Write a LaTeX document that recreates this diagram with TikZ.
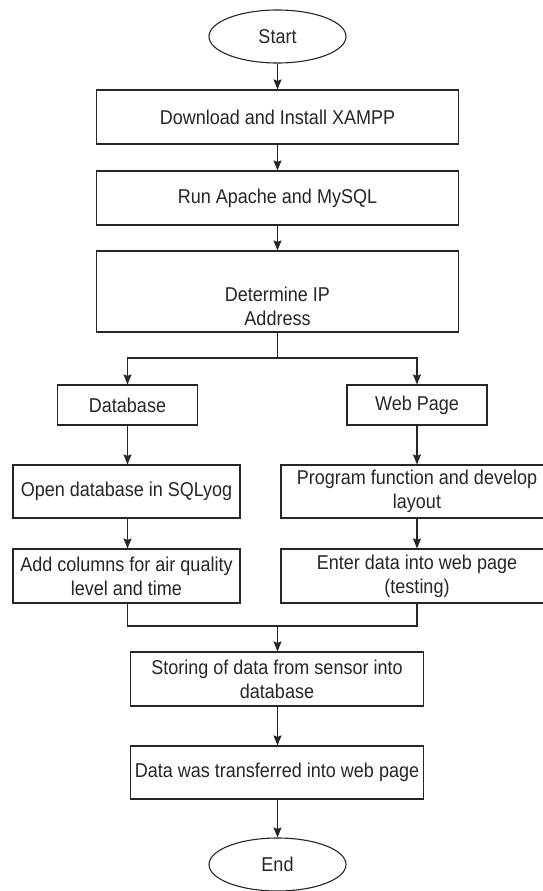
\documentclass[tikz,border=0pt]{standalone}
\usepackage{fontspec}
\setmainfont{Liberation Sans}[FakeStretch=0.9]
\usetikzlibrary{shapes.geometric,arrows.meta}
\begin{document}
\begin{tikzpicture}[x=1pt,y=-1pt,
  every node/.style={font=\fontsize{20}{24}\selectfont, text=black!85, align=center, inner sep=0pt},
  box/.style={draw=black!85, line width=1.2pt, rectangle, minimum width=#1},
  oval/.style={draw=black!85, line width=1.1pt, ellipse, minimum width=137pt, minimum height=53pt},
  conn/.style={draw=black!85, line width=1.2pt},
  arr/.style={conn, -{Stealth[length=10pt,width=8pt,inset=1.5pt]}}]
\useasboundingbox (0,0) rectangle (543,891);
\fill[white] (0,0) rectangle (543,891);

\node[oval] (start) at (277.5,36.5) {Start};
\node[box=362pt, minimum height=54pt] (b1) at (277.5,117) {Download and Install XAMPP};
\node[box=362pt, minimum height=54pt] (b2) at (277.5,198) {Run Apache and MySQL};
\node[box=362pt, minimum height=81pt] (ip) at (277.5,291.5) {};
\node (iptext) at (277.5,306) {Determine IP\\Address};

\node[box=140pt, minimum height=40pt] (db) at (127.5,405) {Database};
\node[box=140pt, minimum height=40pt] (wp) at (417,405) {Web Page};

\node[box=227pt, minimum height=53pt] (od) at (126.5,491.5) {Open database in SQLyog};
\node[box=272pt, minimum height=53pt] (pf) at (417,491.5) {Program function and develop\\layout};
\node[box=227pt, minimum height=54pt] (ac) at (126.5,576) {Add columns for air quality\\level and time};
\node[box=272pt, minimum height=54pt] (ed) at (417,576) {Enter data into web page\\(testing)};

\node[box=293pt, minimum height=54pt] (st) at (277,679) {Storing of data from sensor into\\database};
\node[box=293pt, minimum height=53pt] (dt) at (277,772.5) {Data was transferred into web page};
\node[oval] (end) at (277.5,864.5) {End};

\coordinate (split) at (277.5,358);
\coordinate (merge) at (277.5,626);

\draw[arr] (start) -- (b1);
\draw[arr] (b1) -- (b2);
\draw[arr] (b2) -- (ip);
\draw[conn] (ip.south) -- (split);
\draw[arr] (split) -| (db.north);
\draw[arr] (split) -| (wp.north);
\draw[arr] (db) -- (db.south |- od.north);
\draw[arr] (wp) -- (wp.south |- pf.north);
\draw[arr] (db.south |- od.south) -- (db.south |- ac.north);
\draw[arr] (wp.south |- pf.south) -- (wp.south |- ed.north);
\draw[conn] (db.south |- ac.south) |- (merge);
\draw[conn] (wp.south |- ed.south) |- (merge);
\draw[arr] (merge) -- (st.north -| merge);
\draw[arr] (st.south -| merge) -- (dt.north -| merge);
\draw[arr] (dt.south -| merge) -- (end);
\end{tikzpicture}
\end{document}
